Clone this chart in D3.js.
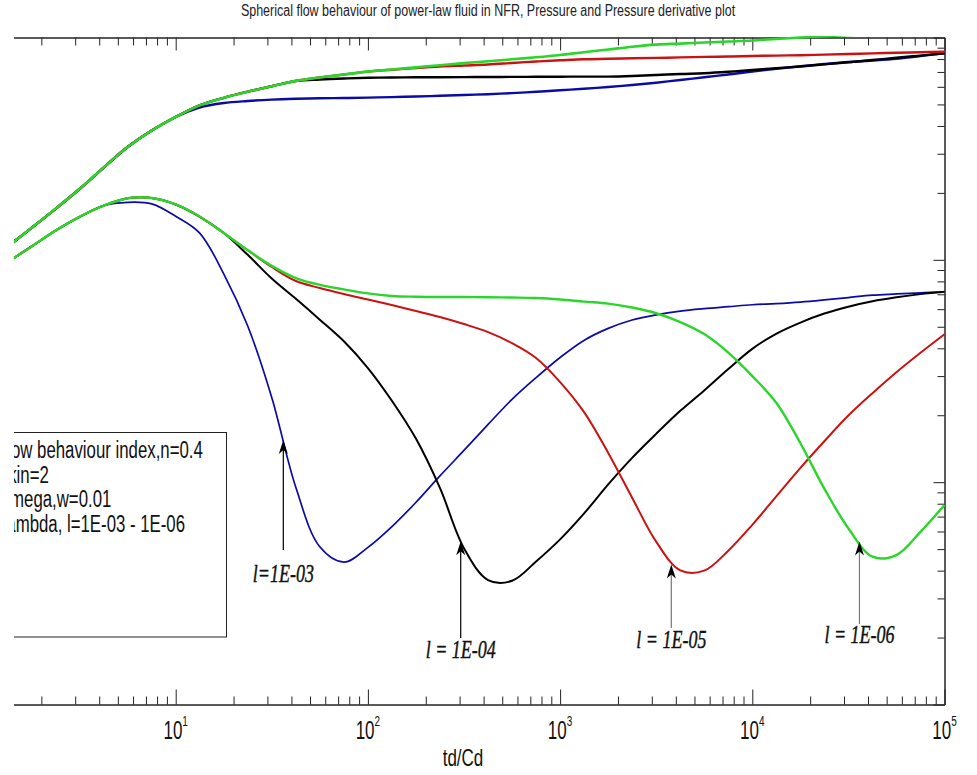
<!DOCTYPE html>
<html>
<head>
<meta charset="utf-8">
<script src="https://cdn.jsdelivr.net/npm/d3@7"></script>
<style>
  body { margin: 0; background: #fff; }
  text { font-family: "Liberation Sans", Arial, sans-serif; }
</style>
</head>
<body>
<script>
// dimensionless time td/Cd
const tD = [1.33, 1.78, 2.37, 3.16, 4.22, 5.62, 7.5, 10, 13.3, 17.8, 23.7, 31.6, 42.2, 56.2, 75, 100,
  133, 178, 237, 316, 422, 562, 750, 1000, 1330, 1780, 2370, 3160, 4220, 5620, 7500, 10000,
  13300, 17800, 23700, 31600, 42200, 56200, 75000, 100000];

// pressure, one curve per lambda
const presL3 = [1.144, 1.393, 1.696, 2.083, 2.601, 3.217, 3.816, 4.389, 4.843, 5.075, 5.181, 5.256, 5.300, 5.328, 5.344, 5.366,
  5.394, 5.428, 5.467, 5.512, 5.558, 5.622, 5.698, 5.788, 5.878, 5.989, 6.114, 6.262, 6.439, 6.622, 6.818, 7.033,
  7.232, 7.430, 7.600, 7.759, 7.880, 8.028, 8.257, 8.491];
const presL4 = [1.144, 1.393, 1.696, 2.083, 2.601, 3.217, 3.816, 4.389, 4.950, 5.355, 5.705, 6.033, 6.373, 6.474, 6.541, 6.588,
  6.609, 6.622, 6.628, 6.636, 6.642, 6.650, 6.656, 6.664, 6.670, 6.670, 6.712, 6.782, 6.852, 6.909, 7.010, 7.142,
  7.268, 7.406, 7.568, 7.743, 7.921, 8.104, 8.291, 8.491];
const presL5 = [1.144, 1.393, 1.696, 2.083, 2.601, 3.217, 3.816, 4.389, 4.950, 5.355, 5.705, 6.033, 6.380, 6.609, 6.818, 7.025,
  7.158, 7.292, 7.406, 7.482, 7.560, 7.679, 7.798, 7.896, 7.987, 8.020, 8.061, 8.095, 8.138, 8.179, 8.213, 8.257,
  8.291, 8.326, 8.378, 8.430, 8.483, 8.536, 8.589, 8.633];
const presL6 = [1.144, 1.393, 1.696, 2.083, 2.601, 3.217, 3.816, 4.389, 4.950, 5.355, 5.705, 6.033, 6.380, 6.609, 6.818, 7.025,
  7.181, 7.338, 7.507, 7.671, 7.815, 7.979, 8.146, 8.343, 8.588, 8.831, 9.092, 9.292, 9.389, 9.495, 9.594, 9.694,
  9.846, 10.0, 10.13, 10.26, 10.39, 10.52, 10.65, 10.78];

// pressure derivative
const derivL3 = [0.9745, 1.149, 1.353, 1.560, 1.753, 1.814, 1.786, 1.571, 1.323, 0.8632, 0.5037, 0.2404, 0.0946, 0.0512, 0.0437, 0.0509,
  0.0630, 0.0812, 0.1067, 0.1389, 0.1818, 0.2357, 0.2952, 0.3637, 0.4341, 0.4917, 0.5362, 0.5660, 0.5882, 0.6032, 0.6155, 0.6281,
  0.6355, 0.6457, 0.6601, 0.6767, 0.6937, 0.7023, 0.7104, 0.7185];
const derivL4 = [0.9745, 1.149, 1.353, 1.560, 1.753, 1.893, 1.897, 1.774, 1.566, 1.320, 1.053, 0.8240, 0.6677, 0.5383, 0.4303, 0.3261,
  0.2329, 0.1566, 0.0942, 0.0505, 0.0363, 0.0360, 0.0440, 0.0553, 0.0722, 0.0977, 0.1286, 0.1649, 0.2093, 0.2585, 0.3229, 0.3978,
  0.4648, 0.5223, 0.5732, 0.6156, 0.6511, 0.6781, 0.7011, 0.7185];
const derivL5 = [0.9745, 1.149, 1.353, 1.560, 1.753, 1.893, 1.897, 1.774, 1.566, 1.320, 1.105, 0.9282, 0.8028, 0.7468, 0.7017, 0.6629,
  0.6261, 0.5884, 0.5529, 0.5142, 0.4733, 0.4222, 0.3617, 0.2820, 0.2071, 0.1354, 0.0851, 0.0540, 0.0401, 0.0400, 0.0492, 0.0643,
  0.0861, 0.1160, 0.1528, 0.1993, 0.2513, 0.3122, 0.3820, 0.4627];
const derivL6 = [0.9745, 1.149, 1.353, 1.560, 1.753, 1.893, 1.897, 1.774, 1.566, 1.320, 1.105, 0.9397, 0.8282, 0.7718, 0.7367, 0.7061,
  0.6880, 0.6823, 0.6803, 0.6803, 0.6789, 0.6767, 0.6733, 0.6636, 0.6486, 0.6353, 0.6101, 0.5751, 0.5251, 0.4636, 0.3828, 0.3001,
  0.2281, 0.1496, 0.0935, 0.0620, 0.0462, 0.0470, 0.0598, 0.0789];

// x tick labels (powers of ten)
const xMajor = [10, 100, 1000, 10000, 100000];
const xExp = ['1', '2', '3', '4', '5'];

// legend text
const legendLines = ['Flow behaviour index,n=0.4', 'Skin=2', 'Omega,w=0.01', 'Lambda, l=1E-03 - 1E-06'];

// arrow annotations: time, value at the arrow tip, label
const annoT = [36.3, 304, 3790, 36100];
const annoV = [0.1546, 0.0543, 0.0426, 0.0541];
const annoText = ['l=1E-03', 'l = 1E-04', 'l = 1E-05', 'l = 1E-06'];

const W = 977, H = 775;
const plot = { left: 14, right: 944.5, top: 37.5, bottom: 704.5 };

// scales (left part of the figure is cropped off)
const x = d3.scaleLog().domain([1, 1e5]).range([-16.5, 944.5]);
const y = d3.scaleLog().domain([0.01, 10]).range([plot.bottom, plot.top]);

const svg = d3.select('body').append('svg')
  .attr('width', W)
  .attr('height', H);

const defs = svg.append('defs');
defs.append('clipPath').attr('id', 'crop')
  .append('rect').attr('x', 14).attr('y', 0).attr('width', W - 14).attr('height', H);
defs.append('clipPath').attr('id', 'plotclip')
  .append('rect').attr('x', 14).attr('y', plot.top - 1.5)
  .attr('width', plot.right - 14 + 1).attr('height', plot.bottom - plot.top + 3);

// title
svg.append('text')
  .attr('transform', `translate(488,16) scale(1,1.3)`)
  .attr('text-anchor', 'middle')
  .style('font-size', '12.5px')
  .style('fill', '#222')
  .text('Spherical flow behaviour of power-law fluid in NFR, Pressure and Pressure derivative plot');

const g = svg.append('g').attr('clip-path', 'url(#crop)');

// minor tick values
const xMinor = [], yMinor = [];
[1, 10, 100, 1000, 10000].forEach(d => { for (let k = 2; k <= 9; k++) xMinor.push(d * k); });
[0.01, 0.1, 1].forEach(d => { for (let k = 2; k <= 9; k++) yMinor.push(d * k); });
const yMajor = [0.01, 0.1, 1, 10];

function styleAxis(sel) {
  sel.attr('color', '#222');
  sel.selectAll('path, line').attr('stroke-width', 1);
}

// bottom axis
g.append('g').attr('transform', `translate(0,${plot.bottom})`)
  .call(d3.axisBottom(x).tickValues(xMinor).tickSize(-8).tickSizeOuter(0).tickFormat(''))
  .call(styleAxis);
g.append('g').attr('transform', `translate(0,${plot.bottom})`)
  .call(d3.axisBottom(x).tickValues(xMajor).tickSize(-15).tickSizeOuter(0).tickFormat(''))
  .call(styleAxis);

// top axis
g.append('g').attr('transform', `translate(0,${plot.top})`)
  .call(d3.axisTop(x).tickValues(xMinor).tickSize(-8).tickSizeOuter(0).tickFormat(''))
  .call(styleAxis);
g.append('g').attr('transform', `translate(0,${plot.top})`)
  .call(d3.axisTop(x).tickValues(xMajor).tickSize(-13).tickSizeOuter(0).tickFormat(''))
  .call(styleAxis);

// right axis
g.append('g').attr('transform', `translate(${plot.right},0)`)
  .call(d3.axisRight(y).tickValues(yMinor).tickSize(-7).tickSizeOuter(0).tickFormat(''))
  .call(styleAxis);
g.append('g').attr('transform', `translate(${plot.right},0)`)
  .call(d3.axisRight(y).tickValues(yMajor).tickSize(-11).tickSizeOuter(0).tickFormat(''))
  .call(styleAxis);

// x tick labels 10^n
xMajor.forEach((v, i) => {
  const t = g.append('text')
    .attr('transform', `translate(${x(v)},739) scale(1,1.5)`)
    .attr('text-anchor', 'middle')
    .style('font-size', '17px')
    .style('fill', '#111');
  t.append('tspan').text('10');
  t.append('tspan').attr('dy', -9).style('font-size', '10px').text(xExp[i]);
});

// x axis label
g.append('text')
  .attr('transform', `translate(463,766) scale(1,1.45)`)
  .attr('text-anchor', 'middle')
  .style('font-size', '17px')
  .style('fill', '#111')
  .text('td/Cd');

// curves
const line = d3.line()
  .x((d, i) => x(tD[i]))
  .y(d => y(d))
  .curve(d3.curveCatmullRom.alpha(0.5));

const curves = [
  { vals: presL3, color: '#0a0aa8', w: 2.4 },
  { vals: presL4, color: '#000000', w: 2.4 },
  { vals: presL5, color: '#cc1111', w: 2.4 },
  { vals: presL6, color: '#2bd62b', w: 2.6 },
  { vals: derivL3, color: '#0a0aa8', w: 1.7 },
  { vals: derivL4, color: '#000000', w: 2 },
  { vals: derivL5, color: '#cc1111', w: 2 },
  { vals: derivL6, color: '#2bd62b', w: 2.4 }
];

const cg = g.append('g').attr('clip-path', 'url(#plotclip)');
cg.selectAll('path.curve')
  .data(curves)
  .enter().append('path')
  .attr('class', 'curve')
  .attr('d', d => line(d.vals))
  .attr('fill', 'none')
  .attr('stroke', d => d.color)
  .attr('stroke-width', d => d.w)
  .attr('stroke-linejoin', 'round');

// legend box
g.append('rect')
  .attr('x', -20.5).attr('y', 432.5)
  .attr('width', 247).attr('height', 204.5)
  .attr('fill', '#fff')
  .attr('stroke', '#222')
  .attr('stroke-width', 1);

legendLines.forEach((s, i) => {
  g.append('text')
    .attr('transform', `translate(-3,${458 + i * 24.6}) scale(1,1.4)`)
    .style('font-size', '16.8px')
    .style('fill', '#111')
    .text(s);
});

// arrows with labels
const tailY = [550, 638, 628, 624];
const labelY = [582, 658, 648, 643];
const arrowColor = ['#000', '#000', '#777', '#777'];

annoT.forEach((t, i) => {
  const ax = x(t), ay = y(annoV[i]);
  g.append('line')
    .attr('x1', ax).attr('x2', ax)
    .attr('y1', ay + 6).attr('y2', tailY[i])
    .attr('stroke', arrowColor[i])
    .attr('stroke-width', 1.2);
  g.append('path')
    .attr('d', `M${ax},${ay} L${ax - 4.5},${ay + 14} L${ax},${ay + 10} L${ax + 4.5},${ay + 14} Z`)
    .attr('fill', '#000');
  g.append('text')
    .attr('transform', `translate(${ax},${labelY[i]}) scale(1,1.35)`)
    .attr('text-anchor', 'middle')
    .style('font-family', '"Liberation Serif", "Times New Roman", serif')
    .style('font-style', 'italic')
    .style('font-size', '18px')
    .style('fill', '#111')
    .style('stroke', '#111')
    .style('stroke-width', 0.3)
    .text(annoText[i]);
});
</script>
</body>
</html>
